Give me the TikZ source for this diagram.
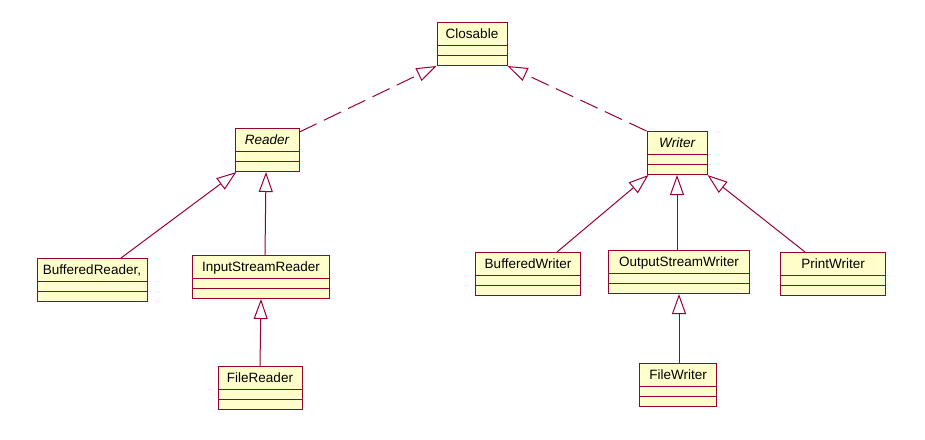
\documentclass[tikz,border=0pt]{standalone}
\usepackage{fontspec}
\setmainfont{Liberation Sans}
\usetikzlibrary{arrows.meta,shapes.multipart,calc}

\definecolor{umlred}{RGB}{153,0,51}
\definecolor{umlfill}{RGB}{255,255,204}

% one class box: name part, then two empty parts
\newcommand\classparts[1]{\rule[-7pt]{0pt}{22pt}#1%
  \nodepart{two}\rule{0pt}{9pt}\nodepart{three}\rule{0pt}{9pt}}

\tikzset{
  classbox/.style = {rectangle split, rectangle split parts=3,
    draw=umlred, fill=umlfill, line width=1pt, anchor=north,
    inner xsep=0pt, inner ysep=0pt,
    font=\fontsize{13.5}{16}\selectfont},
  inherit/.style = {draw=umlred, line width=1pt,
    -{Triangle[open,length=20pt,width=14pt]}},
  realize/.style = {inherit, dash pattern=on 19pt off 8pt},
}

\begin{document}
\begin{tikzpicture}[x=1pt, y=-1pt]
  \useasboundingbox (0,0) rectangle (925,439);

  \node[classbox, minimum width=70pt]  (closable) at (472,22)   {\classparts{Closable}};
  \node[classbox, minimum width=64pt]  (reader)   at (267,128)  {\classparts{\itshape Reader}};
  \node[classbox, minimum width=60pt]  (writer)   at (677,131)  {\classparts{\itshape Writer}};
  \node[classbox, minimum width=110pt] (bufreader) at (92,258)  {\classparts{BufferedReader,}};
  \node[classbox, minimum width=137pt] (isreader) at (261,255)  {\classparts{InputStreamReader}};
  \node[classbox, minimum width=84pt]  (filereader) at (260,366) {\classparts{FileReader}};
  \node[classbox, minimum width=105pt] (bufwriter) at (528,252) {\classparts{BufferedWriter}};
  \node[classbox, minimum width=141pt] (oswriter) at (679,250)  {\classparts{OutputStreamWriter}};
  \node[classbox, minimum width=105pt] (printwriter) at (833,252) {\classparts{PrintWriter}};
  \node[classbox, minimum width=77pt]  (filewriter) at (678,363) {\classparts{FileWriter}};

  % interfaces
  \draw[realize] ([yshift=-4pt]reader.north east) -- (closable.south west);
  \draw[realize] (writer.north west) -- (closable.south east);

  % reader side
  \draw[inherit] ([xshift=29pt]bufreader.north) -- ([xshift=2pt]reader.south west);
  \draw[inherit] ([xshift=4pt]isreader.north) -- ([xshift=-1pt]reader.south);
  \draw[inherit] (filereader.north) -- (isreader.south);

  % writer side
  \draw[inherit] ([xshift=29pt]bufwriter.north) -- ([xshift=2pt]writer.south west);
  \draw[inherit] ([xshift=-2pt]oswriter.north) -- (writer.south);
  \draw[inherit] ([xshift=-28pt]printwriter.north) -- (writer.south east);
  \draw[inherit] ([xshift=1pt]filewriter.north) -- (oswriter.south);
\end{tikzpicture}
\end{document}
